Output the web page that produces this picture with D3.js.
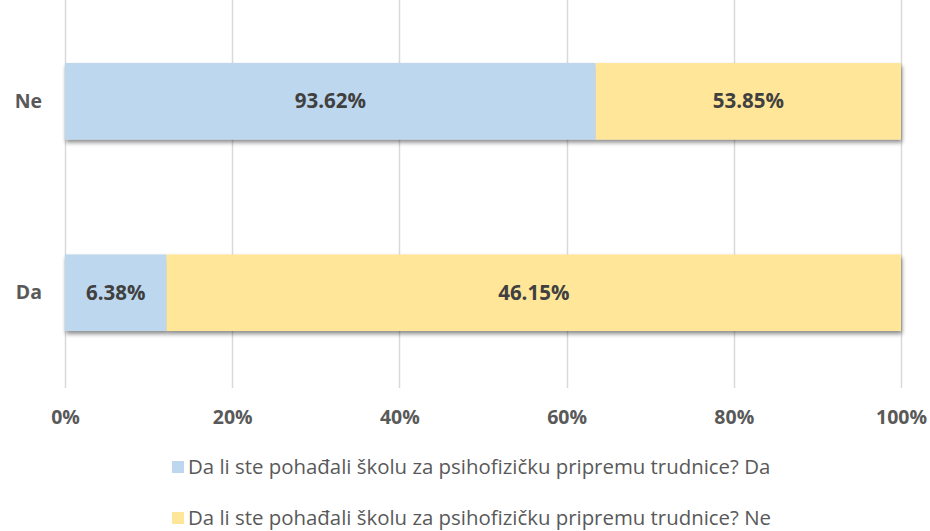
<!DOCTYPE html>
<html>
<head>
<meta charset="utf-8">
<script src="https://cdn.jsdelivr.net/npm/d3@7"></script>
<style>
  body { margin: 0; background: #fff; }
  svg { display: block; font-family: "Open Sans", sans-serif; }
</style>
</head>
<body>
<div id="chart"></div>
<script>
// data
const categories = ["Ne", "Da"]
const seriesNames = [
    "Da li ste pohađali školu za psihofizičku pripremu trudnice? Da",
    "Da li ste pohađali školu za psihofizičku pripremu trudnice? Ne"
]
const seriesDa = [93.62, 6.38]
const seriesNe = [53.85, 46.15]
const tickValues = [0, 0.2, 0.4, 0.6, 0.8, 1]
const colors = ["#BDD7EE", "#FFE699"]

const width = 930
const height = 531
const margin = {left: 65, right: 29, top: 0}

const rows = categories.map((c, i) => ({cat: c, Da: seriesDa[i], Ne: seriesNe[i]}))
const stacked = d3.stack()
                  .keys(["Da", "Ne"])
                  .offset(d3.stackOffsetExpand)(rows)

const svg = d3.select("#chart").append("svg")
              .attr("width", width)
              .attr("height", height)

const defs = svg.append("defs")
defs.append("filter")
    .attr("id", "shadow")
    .attr("x", "-5%").attr("y", "-20%")
    .attr("width", "110%").attr("height", "150%")
    .append("feDropShadow")
    .attr("dx", 1).attr("dy", 3)
    .attr("stdDeviation", 2)
    .attr("flood-color", "#000")
    .attr("flood-opacity", 0.45)

// scales
const xScale = d3.scaleLinear()
                 .domain([0, 1])
                 .range([margin.left, width - margin.right])
const yScale = d3.scaleBand()
                 .domain(categories)
                 .range([63, 331])
                 .paddingInner(0.6)
                 .paddingOuter(0)

// grid
svg.append("g")
   .selectAll("line")
   .data(tickValues)
   .join("line")
   .attr("x1", d => Math.round(xScale(d)) + 0.5)
   .attr("x2", d => Math.round(xScale(d)) + 0.5)
   .attr("y1", 0)
   .attr("y2", 388)
   .attr("stroke", "#d9d9d9")
   .attr("stroke-width", 1.5)

// x axis labels
const xAxis = d3.axisBottom(xScale)
                .tickValues(tickValues)
                .tickFormat(d3.format(".0%"))
                .tickSize(0)
                .tickPadding(0)
const xg = svg.append("g")
              .attr("transform", "translate(0, 410)")
              .call(xAxis)
xg.select(".domain").remove()
xg.selectAll("text")
  .attr("font-family", "Open Sans")
  .attr("font-size", "19.5px")
  .attr("font-weight", "bold")
  .attr("fill", "#595959")

// y axis labels
const yAxis = d3.axisLeft(yScale).tickSize(0).tickPadding(0)
const yg = svg.append("g")
              .attr("transform", "translate(42, 0)")
              .call(yAxis)
yg.select(".domain").remove()
yg.selectAll("text")
  .attr("font-family", "Open Sans")
  .attr("font-size", "19.5px")
  .attr("font-weight", "bold")
  .attr("fill", "#595959")

// bars (one shadow per row)
const rowGroups = svg.append("g")
                     .selectAll("g")
                     .data(categories)
                     .join("g")
                     .attr("filter", "url(#shadow)")
rowGroups.selectAll("rect")
         .data((c, i) => stacked.map((s, k) => ({key: s.key, k: k, cat: c, d: s[i]})))
         .join("rect")
         .attr("x", d => xScale(d.d[0]))
         .attr("width", d => xScale(d.d[1]) - xScale(d.d[0]))
         .attr("y", d => yScale(d.cat))
         .attr("height", yScale.bandwidth())
         .attr("fill", d => colors[d.k])

// data labels
const labels = []
stacked.forEach(s => s.forEach((d, i) => labels.push({cat: categories[i], d: d, v: d.data[s.key]})))
svg.append("g")
   .selectAll("text")
   .data(labels)
   .join("text")
   .attr("x", d => xScale((d.d[0] + d.d[1]) / 2))
   .attr("y", d => yScale(d.cat) + yScale.bandwidth() / 2)
   .attr("dy", "0.35em")
   .attr("text-anchor", "middle")
   .attr("font-size", "20.5px")
   .attr("font-weight", "bold")
   .attr("fill", "#404040")
   .text(d => d.v.toFixed(2) + "%")

// legend
const legend = svg.append("g")
                  .selectAll("g")
                  .data(seriesNames)
                  .join("g")
                  .attr("transform", (d, i) => `translate(172, ${467 + i * 51})`)
legend.append("rect")
      .attr("x", 0)
      .attr("y", -6)
      .attr("width", 12)
      .attr("height", 12)
      .attr("fill", (d, i) => colors[i])
legend.append("text")
      .attr("x", 16)
      .attr("dy", "0.35em")
      .attr("font-size", "20.4px")
      .attr("fill", "#595959")
      .text(d => d)
</script>
</body>
</html>
